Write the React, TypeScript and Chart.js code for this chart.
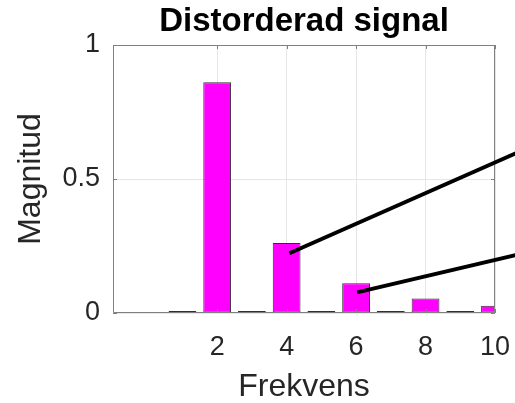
import React, { useEffect, useRef } from "react";
import { Chart, registerables } from "chart.js";

Chart.register(...registerables);

const frequencies = [0, 1, 2, 3, 4, 5, 6, 7, 8, 9, 10];
const magnitudes = [0.003, 0.007, 0.861, 0.007, 0.261, 0.007, 0.111, 0.007, 0.054, 0.007, 0.027];
const xTickValues = [2, 4, 6, 8, 10];
const yTickValues = [0, 0.5, 1];
const lineStartX = [4.08, 6.03];
const lineStartY = [0.223, 0.077];
const lineEndX = [10.6, 10.6];
const lineEndY = [0.596, 0.216];

const FONT = "'Liberation Sans', Arial, Helvetica, sans-serif";

const framePlugin = {
  id: "frame",
  afterDatasetsDraw(chart: any) {
    const { ctx, chartArea, scales } = chart;
    const { left, right, top, bottom } = chartArea;
    ctx.save();
    ctx.strokeStyle = "#808080";
    ctx.lineWidth = 1;
    ctx.beginPath();
    ctx.rect(left + 0.5, top + 0.5, right - left - 1, bottom - top - 1);
    ctx.stroke();
    ctx.beginPath();
    const tl = 4;
    scales.x.ticks.forEach((t: any) => {
      const px = Math.round(scales.x.getPixelForValue(t.value)) + 0.5;
      ctx.moveTo(px, bottom);
      ctx.lineTo(px, bottom - tl);
      ctx.moveTo(px, top);
      ctx.lineTo(px, top + tl);
    });
    scales.y.ticks.forEach((t: any) => {
      const py = Math.round(scales.y.getPixelForValue(t.value)) + 0.5;
      ctx.moveTo(left, py);
      ctx.lineTo(left + tl, py);
      ctx.moveTo(right, py);
      ctx.lineTo(right - tl, py);
    });
    ctx.stroke();
    ctx.restore();
  },
  afterDraw(chart: any) {
    const { ctx, scales } = chart;
    ctx.save();
    ctx.strokeStyle = "#000000";
    ctx.lineWidth = 4;
    ctx.lineCap = "butt";
    for (let i = 0; i < lineStartX.length; i++) {
      ctx.beginPath();
      ctx.moveTo(scales.x.getPixelForValue(lineStartX[i]), scales.y.getPixelForValue(lineStartY[i]));
      ctx.lineTo(scales.x.getPixelForValue(lineEndX[i]), scales.y.getPixelForValue(lineEndY[i]));
      ctx.stroke();
    }
    ctx.restore();
  },
};

export default function App() {
  const ref = useRef<HTMLCanvasElement>(null);
  useEffect(() => {
    document.body.style.margin = "0";
    const chart = new Chart(ref.current as HTMLCanvasElement, {
      type: "bar",
      data: {
        datasets: [
          {
            data: frequencies.map((f, i) => ({ x: f, y: magnitudes[i] })),
            backgroundColor: "#ff00ff",
            borderColor: "#303030",
            borderWidth: 1,
            borderSkipped: false,
            barPercentage: 0.8,
            categoryPercentage: 1.0,
          } as any,
        ],
      },
      options: {
        responsive: false,
        animation: false,
        layout: { padding: { left: 0, right: 20, top: 0, bottom: 0 } },
        plugins: {
          legend: { display: false },
          tooltip: { enabled: false },
          title: {
            display: true,
            fullSize: false,
            text: "Distorderad signal",
            color: "#000000",
            font: { family: FONT, size: 33, weight: "bold", lineHeight: 1.2 },
            padding: { top: 2, bottom: 3.4 },
          },
        },
        scales: {
          x: {
            type: "linear",
            min: -1,
            max: 10,
            offset: false,
            afterFit(scale: any) {
              scale.height = 90;
              scale.paddingLeft = 0;
              scale.paddingRight = 0;
            },
            afterBuildTicks(scale: any) {
              scale.ticks = xTickValues.map((v) => ({ value: v }));
            },
            ticks: {
              color: "#262626",
              font: { family: FONT, size: 27 },
              padding: 18,
              maxRotation: 0,
              autoSkip: false,
            },
            grid: { color: "#e6e6e6", drawTicks: false, offset: false },
            border: { display: false },
            title: {
              display: true,
              text: "Frekvens",
              color: "#262626",
              font: { family: FONT, size: 32, lineHeight: 1.0 },
              padding: { top: 0, bottom: 0 },
            },
          },
          y: {
            min: 0,
            max: 1,
            afterFit(scale: any) {
              scale.width = 113;
            },
            afterBuildTicks(scale: any) {
              scale.ticks = yTickValues.map((v) => ({ value: v }));
            },
            ticks: {
              color: "#262626",
              font: { family: FONT, size: 27 },
              padding: 13,
              callback: (v: any) => String(v),
            },
            grid: { color: "#e6e6e6", drawTicks: false },
            border: { display: false },
            title: {
              display: true,
              text: "Magnitud",
              color: "#262626",
              font: { family: FONT, size: 32, lineHeight: 1.0 },
              padding: { top: 15, bottom: 0 },
            },
          },
        },
      },
      plugins: [framePlugin],
    });
    return () => chart.destroy();
  }, []);
  return <canvas ref={ref} width={515} height={403} />;
}
